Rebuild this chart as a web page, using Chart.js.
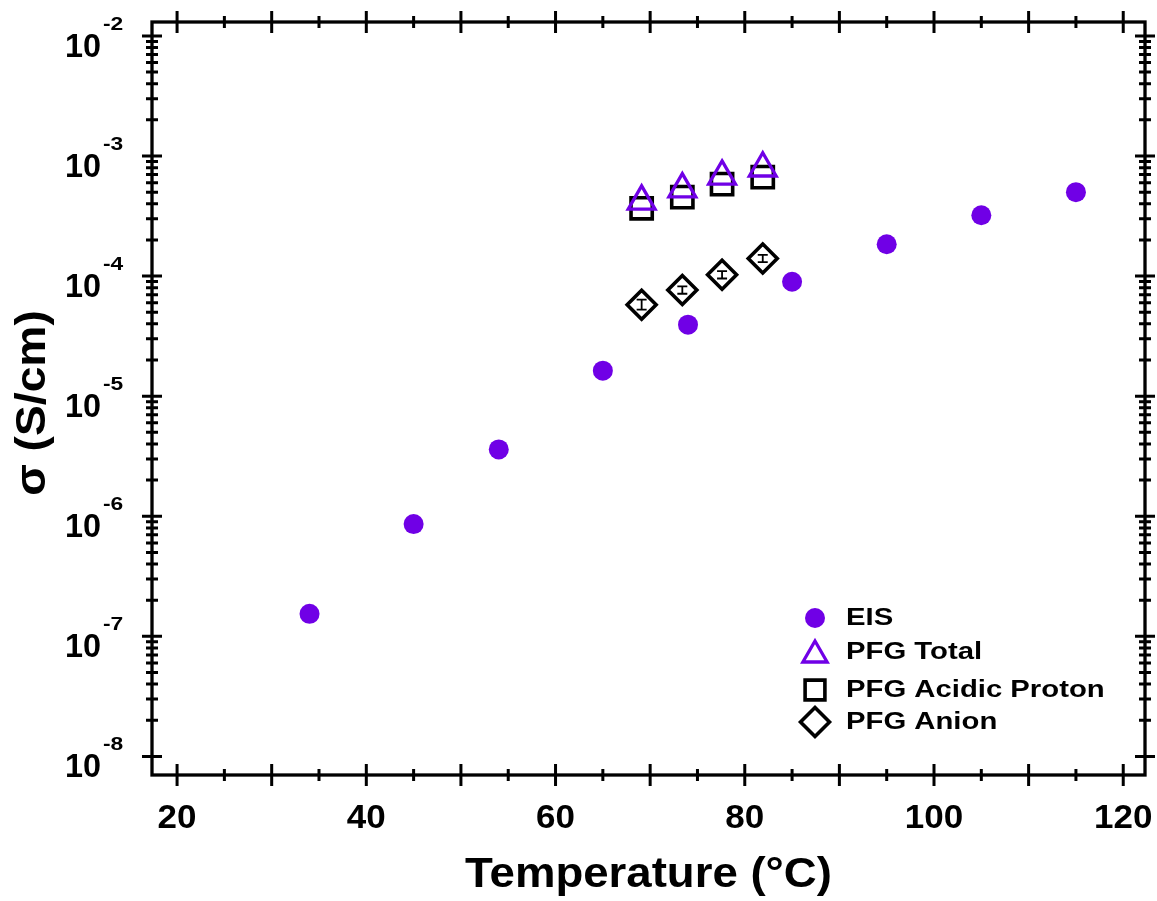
<!DOCTYPE html>
<html>
<head>
<meta charset="utf-8">
<script src="https://cdn.jsdelivr.net/npm/chart.js@4.4.0/dist/chart.umd.min.js"></script>
<style>
  body { margin: 0; background: #fff; }
  #chart { display: block; }
</style>
</head>
<body>
<canvas id="chart" width="1157" height="901"></canvas>
<script>
// data
const eisTemp = [34, 45, 54, 65, 74, 85, 95, 105, 115];
const eisSigma = [1.54e-7, 8.6e-7, 3.6e-6, 1.63e-5, 3.94e-5, 8.97e-5, 1.84e-4, 3.21e-4, 5.0e-4];

const pfgTemp = [69.1, 73.4, 77.6, 81.9];
const totalSigma = [4.19e-4, 5.3e-4, 6.76e-4, 7.91e-4];
const acidicSigma = [3.67e-4, 4.55e-4, 5.83e-4, 6.67e-4];
const anionSigma = [5.78e-5, 7.65e-5, 1.025e-4, 1.40e-4];
const anionErrLow = [5.25e-5, 7.13e-5, 0.955e-4, 1.305e-4];
const anionErrHigh = [6.36e-5, 8.2e-5, 1.10e-4, 1.50e-4];

// axis ticks
const xTickLabels = [20, 40, 60, 80, 100, 120];
const yDecades = [-8, -7, -6, -5, -4, -3, -2];

const PURPLE = '#7000e6';
const FONT = "'Liberation Sans', Arial, sans-serif";

const toPoints = (xs, ys) => xs.map((x, i) => ({ x: x, y: ys[i] }));

// text in the figure is a bit wider than plain Arial, so stretch it horizontally
function wideText(ctx, text, x, y, sx, align) {
  ctx.save();
  ctx.translate(x, y);
  ctx.scale(sx, 1);
  ctx.textAlign = align;
  ctx.fillText(text, 0, 0);
  ctx.restore();
}

const frame = {
  id: 'frame',
  afterDatasetsDraw(chart) {
    // error bars on the anion points
    const ctx = chart.ctx;
    const xs = chart.scales.x, ys = chart.scales.y;
    ctx.save();
    ctx.strokeStyle = '#000';
    ctx.lineWidth = 1.8;
    pfgTemp.forEach((t, i) => {
      const px = xs.getPixelForValue(t);
      const lo = ys.getPixelForValue(anionErrLow[i]);
      const hi = ys.getPixelForValue(anionErrHigh[i]);
      ctx.beginPath();
      ctx.moveTo(px, lo); ctx.lineTo(px, hi);
      ctx.moveTo(px - 5, lo); ctx.lineTo(px + 5, lo);
      ctx.moveTo(px - 5, hi); ctx.lineTo(px + 5, hi);
      ctx.stroke();
    });
    ctx.restore();
  },
  afterDraw(chart) {
    const ctx = chart.ctx;
    const a = chart.chartArea;
    const xs = chart.scales.x, ys = chart.scales.y;
    ctx.save();
    ctx.strokeStyle = '#000';
    ctx.fillStyle = '#000';

    // frame
    ctx.lineWidth = 3.3;
    ctx.strokeRect(a.left, a.top, a.right - a.left, a.bottom - a.top);

    // x ticks (bottom and top), major every 10, minor every 5
    ctx.lineWidth = 3;
    for (let v = 20; v <= 120; v += 5) {
      const px = xs.getPixelForValue(v);
      const len = v % 10 === 0 ? 11 : 6;
      ctx.beginPath();
      ctx.moveTo(px, a.bottom - len); ctx.lineTo(px, a.bottom + len);
      ctx.moveTo(px, a.top - len); ctx.lineTo(px, a.top + len);
      ctx.stroke();
    }

    // y ticks (left and right), decades and 2..9 minors
    yDecades.forEach((d, i) => {
      const py = ys.getPixelForValue(Math.pow(10, d));
      ctx.beginPath();
      ctx.moveTo(a.left - 10, py); ctx.lineTo(a.left + 10, py);
      ctx.moveTo(a.right - 10, py); ctx.lineTo(a.right + 10, py);
      ctx.stroke();
      if (i < yDecades.length - 1) {
        for (let m = 2; m <= 9; m++) {
          const pm = ys.getPixelForValue(m * Math.pow(10, d));
          ctx.beginPath();
          ctx.moveTo(a.left - 6, pm); ctx.lineTo(a.left + 6, pm);
          ctx.moveTo(a.right - 6, pm); ctx.lineTo(a.right + 6, pm);
          ctx.stroke();
        }
      }
    });

    // x tick labels
    ctx.font = 'bold 33px ' + FONT;
    ctx.textBaseline = 'alphabetic';
    xTickLabels.forEach(v => {
      wideText(ctx, String(v), xs.getPixelForValue(v), 828, 1.06, 'center');
    });

    // y tick labels: 10 with superscript exponent
    yDecades.forEach(d => {
      const py = ys.getPixelForValue(Math.pow(10, d));
      ctx.font = 'bold 33px ' + FONT;
      wideText(ctx, '10', 101, py + 21, 0.98, 'right');
      ctx.font = 'bold 19px ' + FONT;
      wideText(ctx, String(d), 103, py - 6, 1.2, 'left');
    });

    // axis titles
    ctx.font = 'bold 42px ' + FONT;
    wideText(ctx, 'Temperature (°C)', (a.left + a.right) / 2, 887, 1.085, 'center');
    ctx.save();
    ctx.translate(45, 403);
    ctx.rotate(-Math.PI / 2);
    wideText(ctx, 'σ (S/cm)', 0, 0, 1.1, 'center');
    ctx.restore();

    // legend
    const items = [
      { ds: 0, y: 618, r: 10 },
      { ds: 1, y: 655, r: 14 },
      { ds: 2, y: 690, r: 14 },
      { ds: 3, y: 722, r: 14.5 }
    ];
    ctx.font = 'bold 24px ' + FONT;
    ctx.textBaseline = 'middle';
    items.forEach(it => {
      const ds = chart.data.datasets[it.ds];
      ctx.save();
      ctx.fillStyle = ds.backgroundColor;
      ctx.strokeStyle = ds.borderColor;
      ctx.lineWidth = ds.borderWidth;
      Chart.helpers.drawPoint(ctx, {
        pointStyle: ds.pointStyle, radius: it.r, rotation: 0, borderWidth: ds.borderWidth
      }, 815, it.y);
      ctx.restore();
      ctx.fillStyle = '#000';
      wideText(ctx, ds.label, 846, it.y + (it.ds === 1 ? -3 : 0), 1.22, 'left');
    });
    ctx.restore();
  }
};

new Chart(document.getElementById('chart'), {
  type: 'scatter',
  data: {
    datasets: [
      {
        label: 'EIS',
        data: toPoints(eisTemp, eisSigma),
        pointStyle: 'circle',
        pointRadius: 10,
        backgroundColor: PURPLE,
        borderColor: PURPLE,
        borderWidth: 0
      },
      {
        label: 'PFG Total',
        data: toPoints(pfgTemp, totalSigma),
        pointStyle: 'triangle',
        pointRadius: 15.5,
        backgroundColor: 'rgba(0,0,0,0)',
        borderColor: PURPLE,
        borderWidth: 3.3
      },
      {
        label: 'PFG Acidic Proton',
        data: toPoints(pfgTemp, acidicSigma),
        pointStyle: 'rect',
        pointRadius: 15,
        backgroundColor: 'rgba(0,0,0,0)',
        borderColor: '#000',
        borderWidth: 3.6
      },
      {
        label: 'PFG Anion',
        data: toPoints(pfgTemp, anionSigma),
        pointStyle: 'rectRot',
        pointRadius: 14.5,
        backgroundColor: 'rgba(0,0,0,0)',
        borderColor: '#000',
        borderWidth: 3.6
      }
    ]
  },
  options: {
    responsive: false,
    animation: false,
    events: [],
    layout: { autoPadding: false, padding: { left: 152, right: 12, top: 22, bottom: 126 } },
    scales: {
      x: {
        type: 'linear',
        display: false,
        min: 17.35,
        max: 122.3
      },
      y: {
        type: 'logarithmic',
        display: false,
        min: Math.pow(10, -8.13),
        max: Math.pow(10, -1.884)
      }
    },
    plugins: {
      legend: { display: false },
      tooltip: { enabled: false }
    }
  },
  plugins: [frame]
});
</script>
</body>
</html>
